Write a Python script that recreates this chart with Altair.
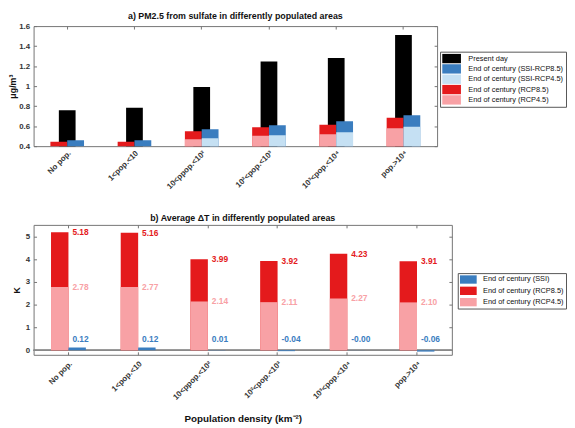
import altair as alt
import pandas as pd

# ---------------- data ----------------
categories = ["No pop.", "1<pop.<10", "10<ppop.<10²", "10²<pop.<10³", "10³<pop.<10⁴", "pop.>10⁴"]

# panel a) PM2.5 from sulfate (µg/m3)
present_day = [0.76, 0.785, 0.99, 1.245, 1.28, 1.51]
rcp85_pm = [0.445, 0.445, 0.548, 0.588, 0.615, 0.685]
rcp45_pm = [0.39, 0.39, 0.47, 0.505, 0.52, 0.58]
ssi85_pm = [0.46, 0.46, 0.57, 0.61, 0.65, 0.71]
ssi45_pm = [0.39, 0.39, 0.48, 0.51, 0.54, 0.595]

# panel b) average delta T (K)
rcp85_dt = [5.18, 5.16, 3.99, 3.92, 4.23, 3.91]
rcp45_dt = [2.78, 2.77, 2.14, 2.11, 2.27, 2.10]
ssi_dt = [0.12, 0.12, 0.01, -0.04, -0.004, -0.06]
ssi_dt_labels = ["0.12", "0.12", "0.01", "-0.04", "-0.00", "-0.06"]

top_names = ["Present day", "End of century (SSI-RCP8.5)", "End of century (SSI-RCP4.5)",
             "End of century (RCP8.5)", "End of century (RCP4.5)"]
bottom_names = ["End of century (SSI)", "End of century (RCP8.5)", "End of century (RCP4.5)"]

# ---------------- style ----------------
FONT = "Liberation Sans"
FRAME = "#737373"
TXT = "#333333"
RED = "#e41a1c"
PINK = "#f8a1a5"
BLUE = "#3a7dbf"
LBLUE = "#c5e0f3"
BLACK = "#000000"

top_colors = [BLACK, BLUE, LBLUE, RED, PINK]
bottom_colors = [BLUE, RED, PINK]

# ---------------- tables ----------------
present_df = pd.DataFrame({"cat": categories, "value": present_day, "series": top_names[0]})
dark_df = pd.DataFrame({
    "cat": categories + categories,
    "value": rcp85_pm + ssi85_pm,
    "series": [top_names[3]] * 6 + [top_names[1]] * 6,
    "grp": ["RCP"] * 6 + ["SSI"] * 6,
})
light_df = pd.DataFrame({
    "cat": categories + categories,
    "value": rcp45_pm + ssi45_pm,
    "series": [top_names[4]] * 6 + [top_names[2]] * 6,
    "grp": ["RCP"] * 6 + ["SSI"] * 6,
})

r85_df = pd.DataFrame({"cat": categories, "value": rcp85_dt, "series": bottom_names[1], "grp": "RCP"})
r45_df = pd.DataFrame({"cat": categories, "value": rcp45_dt, "series": bottom_names[2], "grp": "RCP"})
ssi_df = pd.DataFrame({"cat": categories, "value": ssi_dt, "label": ssi_dt_labels,
                       "series": bottom_names[0], "grp": "SSI"})

TW, TH = 410, 122
BW, BH = 425, 132
RECT = "M-2,-1H2V1H-2Z"

# ---------------- shared axis helpers ----------------
def x_bottom(title=None, pad=3):
    kw = dict(orient="bottom", labelAngle=-45, labelAlign="right",
              labelBaseline="top", labelPadding=pad, tickSize=3, offset=-3,
              domain=False, labelOverlap=False, tickColor=FRAME)
    if title is None:
        return alt.Axis(title=None, **kw)
    return alt.Axis(title=title, titlePadding=13, titleFontSize=10, **kw)

def x_top():
    return alt.Axis(orient="top", title=None, labels=False, tickSize=3, offset=-3,
                    domain=False, tickColor=FRAME)

def y_right(vals):
    return alt.Axis(orient="right", title=None, labels=False, tickSize=3, offset=-3,
                    domain=False, tickColor=FRAME, values=vals, grid=False)

# ---------------- panel a ----------------
top_yvals = [0.4, 0.6, 0.8, 1.0, 1.2, 1.4, 1.6]
top_yscale = alt.Scale(domain=[0.4, 1.6], nice=False, zero=False)
top_xscale = alt.Scale(paddingInner=0, paddingOuter=0)
top_xoff = alt.XOffset("grp:N", scale=alt.Scale(domain=["RCP", "SSI"], paddingInner=0, paddingOuter=1))
top_color = alt.Color(
    "series:N",
    scale=alt.Scale(domain=top_names, range=top_colors),
    legend=alt.Legend(title=None, orient="none", legendX=413, legendY=26,
                      symbolType=RECT, symbolSize=90, symbolOffset=4.75, symbolStrokeWidth=0,
                      labelFontSize=7.5, labelColor="#111111", labelFont=FONT,
                      strokeColor="#555555", fillColor="white", padding=2,
                      rowPadding=0.5, labelOffset=12),
)

black_bars = alt.Chart(present_df).mark_bar(size=17, clip=True).encode(
    x=alt.X("cat:N", sort=categories, scale=top_xscale, axis=x_bottom()),
    y=alt.Y("value:Q", scale=top_yscale,
            axis=alt.Axis(values=top_yvals, format=".1~f", title="μg/m³", offset=-3, tickSize=3,
                          domain=False, labelPadding=4, titlePadding=1, grid=False,
                          tickColor=FRAME)),
    color=top_color,
)
dark_bars = alt.Chart(dark_df).mark_bar(clip=True).encode(
    x=alt.X("cat:N", sort=categories, scale=top_xscale, axis=x_top()),
    xOffset=top_xoff,
    y=alt.Y("value:Q", scale=top_yscale, axis=y_right(top_yvals)),
    color=top_color,
)
light_bars = alt.Chart(light_df).mark_bar(clip=True).encode(
    x=alt.X("cat:N", sort=categories, scale=top_xscale, axis=None),
    xOffset=top_xoff,
    y=alt.Y("value:Q", scale=top_yscale, axis=None),
    color=top_color,
)

top = alt.layer(black_bars, dark_bars, light_bars).resolve_axis(
    x="independent", y="independent"
).properties(
    width=TW, height=TH,
    title=alt.TitleParams("a) PM2.5 from sulfate in differently populated areas", offset=1),
)

# ---------------- panel b ----------------
bot_yvals = [0, 1, 2, 3, 4, 5]
bot_yscale = alt.Scale(domain=[-0.2, 5.5], nice=False)
bot_xscale = alt.Scale(paddingInner=0, paddingOuter=0)
bot_xoff = alt.XOffset("grp:N", scale=alt.Scale(domain=["RCP", "SSI"], paddingInner=0, paddingOuter=1))
bot_color = alt.Color(
    "series:N",
    scale=alt.Scale(domain=bottom_names, range=bottom_colors),
    legend=alt.Legend(title=None, orient="none", legendX=431, legendY=49,
                      symbolType=RECT, symbolSize=72, symbolOffset=4.25, symbolStrokeWidth=0,
                      labelFontSize=7.5, labelColor="#111111", labelFont=FONT,
                      strokeColor="#555555", fillColor="white", padding=2,
                      rowPadding=2.5, labelOffset=10.5),
)

zero_rule = alt.Chart(ssi_df).mark_rule(color="#8a8a8a", strokeWidth=1).encode(
    y=alt.datum(0, scale=bot_yscale, axis=None),
)
red_bars = alt.Chart(r85_df).mark_bar().encode(
    x=alt.X("cat:N", sort=categories, scale=bot_xscale,
            axis=x_bottom("Population density (km⁻²)", pad=5)),
    xOffset=bot_xoff,
    y=alt.Y("value:Q", scale=bot_yscale,
            axis=alt.Axis(values=bot_yvals, title="K", offset=-3, tickSize=3, domain=False,
                          labelPadding=4, titlePadding=4, grid=False, tickColor=FRAME)),
    color=bot_color,
)
pink_bars = alt.Chart(r45_df).mark_bar().encode(
    x=alt.X("cat:N", sort=categories, scale=bot_xscale, axis=x_top()),
    xOffset=bot_xoff,
    y=alt.Y("value:Q", scale=bot_yscale, axis=y_right(bot_yvals)),
    color=bot_color,
)
blue_bars = alt.Chart(ssi_df).mark_bar().encode(
    x=alt.X("cat:N", sort=categories, scale=bot_xscale, axis=None),
    xOffset=bot_xoff,
    y=alt.Y("value:Q", scale=bot_yscale, axis=None),
    color=bot_color,
)
txt_kw = dict(align="left", baseline="middle", dx=4, fontSize=8.5, fontWeight="bold", font=FONT)
red_text = alt.Chart(r85_df).mark_text(color=RED, **txt_kw).encode(
    x=alt.X("cat:N", sort=categories, scale=bot_xscale, axis=None),
    y=alt.Y("value:Q", scale=bot_yscale, axis=None),
    text=alt.Text("value:Q", format=".2f"),
)
pink_text = alt.Chart(r45_df).mark_text(color=PINK, **txt_kw).encode(
    x=alt.X("cat:N", sort=categories, scale=bot_xscale, axis=None),
    y=alt.Y("value:Q", scale=bot_yscale, axis=None),
    text=alt.Text("value:Q", format=".2f"),
)
blue_text = alt.Chart(ssi_df).mark_text(color=BLUE, dy=-11, **txt_kw).encode(
    x=alt.X("cat:N", sort=categories, scale=bot_xscale, axis=None),
    y=alt.datum(0, scale=bot_yscale, axis=None),
    text="label:N",
)

bottom = alt.layer(zero_rule, red_bars, pink_bars, blue_bars, red_text, pink_text, blue_text).resolve_axis(
    x="independent", y="independent"
).properties(
    width=BW, height=BH,
    title=alt.TitleParams("b) Average ΔT in differently populated areas", offset=1),
)

chart = alt.vconcat(top, bottom, spacing=80, bounds="flush").resolve_scale(
    x="independent", y="independent", color="independent", xOffset="independent"
).properties(padding=0).configure(
    font=FONT
).configure_view(
    stroke=FRAME, strokeWidth=1
).configure_axis(
    labelFont=FONT, titleFont=FONT, labelFontSize=8, labelFontWeight="bold", labelColor=TXT,
    titleFontSize=9, titleFontWeight="bold", titleColor="#111111",
).configure_title(
    font=FONT, fontSize=9, fontWeight="bold", color="#111111", anchor="middle"
)

chart.save("out.html", embed_options={"renderer": "svg", "actions": False})
